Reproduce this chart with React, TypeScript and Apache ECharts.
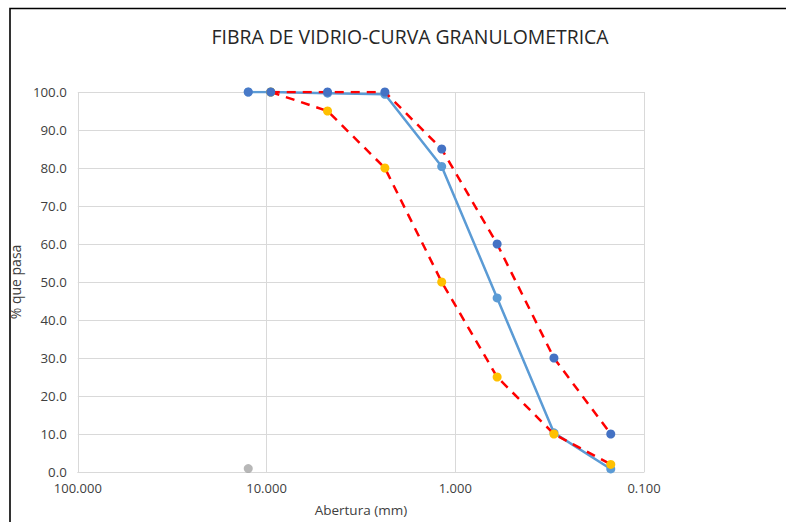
import React, { useEffect, useRef } from "react";
import * as echarts from "echarts";

const sieves = [12.5, 9.5, 4.75, 2.36, 1.18, 0.6, 0.3, 0.15];
const sampleValues = [100, 100, 99.7, 99.4, 80.4, 45.8, 10.3, 0.8];
const upperSieves = [9.5, 4.75, 2.36, 1.18, 0.6, 0.3, 0.15];
const upperValues = [100, 100, 100, 85, 60, 30, 10];
const lowerSieves = [9.5, 4.75, 2.36, 1.18, 0.6, 0.3, 0.15];
const lowerValues = [100, 95, 80, 50, 25, 10, 2];
const extraBluePoint = [12.5, 100];
const grayPoint = [12.5, 0.9];

const FONT = "'Open Sans', 'Noto Sans', sans-serif";

export default function App() {
  const ref = useRef<HTMLDivElement>(null);
  useEffect(() => {
    if (!ref.current) return;
    const chart = echarts.init(ref.current, null, { renderer: "svg" });
    const zip = (xs: number[], ys: number[]) => xs.map((x, i) => [x, ys[i]]);
    chart.setOption({
      animation: false,
      backgroundColor: "#ffffff",
      title: {
        text: "FIBRA DE VIDRIO-CURVA GRANULOMETRICA",
        left: 405,
        top: 22,
        textAlign: "center",
        textStyle: { fontFamily: FONT, fontSize: 19.4, fontWeight: "normal", color: "#262626" },
      },
      graphic: [
        {
          type: "polyline",
          shape: { points: [[10, 540], [10, 8.5], [800, 8.5]] },
          style: { stroke: "#000", lineWidth: 1.6, fill: "none" },
          silent: true,
        },
      ],
      grid: { left: 77, right: 142, top: 92, height: 384, containLabel: false },
      xAxis: {
        type: "log",
        logBase: 10,
        min: 0.1,
        max: 100,
        inverse: true,
        name: "Abertura (mm)",
        nameLocation: "middle",
        nameGap: 31,
        nameTextStyle: { fontFamily: FONT, fontSize: 13.5, color: "#404040" },
        axisLine: { show: true, lineStyle: { color: "#d9d9d9", width: 1 } },
        axisTick: { show: false },
        axisLabel: {
          fontFamily: FONT,
          fontSize: 13,
          color: "#404040",
          margin: 9,
          formatter: (v: number) => v.toFixed(3),
        },
        splitLine: { show: true, lineStyle: { color: "#d9d9d9", width: 1 } },
      },
      yAxis: {
        type: "value",
        min: 0,
        max: 100,
        interval: 10,
        name: "% que pasa",
        nameLocation: "middle",
        nameRotate: 90,
        nameGap: 45,
        nameTextStyle: { fontFamily: FONT, fontSize: 14, color: "#404040" },
        axisLine: { show: false },
        axisTick: { show: false },
        axisLabel: {
          fontFamily: FONT,
          fontSize: 13.3,
          color: "#404040",
          margin: 11,
          formatter: (v: number) => v.toFixed(1),
        },
        splitLine: { show: true, lineStyle: { color: "#d9d9d9", width: 1 } },
      },
      series: [
        {
          name: "Muestra",
          type: "line",
          data: zip(sieves, sampleValues),
          symbol: "circle",
          symbolSize: 9,
          itemStyle: { color: "#5B9BD5" },
          lineStyle: { color: "#5B9BD5", width: 2.5 },
          z: 2,
        },
        {
          name: "Límite inferior",
          type: "line",
          data: zip(lowerSieves, lowerValues),
          symbol: "circle",
          symbolSize: 9,
          itemStyle: { color: "#FFC000" },
          lineStyle: { color: "#FF0000", width: 2.5, type: [9, 7] },
          z: 3,
        },
        {
          name: "Límite superior",
          type: "line",
          data: zip(upperSieves, upperValues),
          symbol: "circle",
          symbolSize: 9,
          itemStyle: { color: "#4472C4" },
          lineStyle: { color: "#FF0000", width: 2.5, type: [9, 7] },
          z: 4,
        },
        {
          name: "Punto",
          type: "scatter",
          data: [extraBluePoint],
          symbol: "circle",
          symbolSize: 9,
          itemStyle: { color: "#4472C4" },
          z: 5,
        },
        {
          name: "Gris",
          type: "scatter",
          data: [grayPoint],
          symbol: "circle",
          symbolSize: 9,
          itemStyle: { color: "#A5A5A5" },
          z: 5,
        },
      ],
    });
    return () => chart.dispose();
  }, []);
  return <div ref={ref} style={{ width: 786, height: 522, position: "absolute", left: 0, top: 0 }} />;
}
